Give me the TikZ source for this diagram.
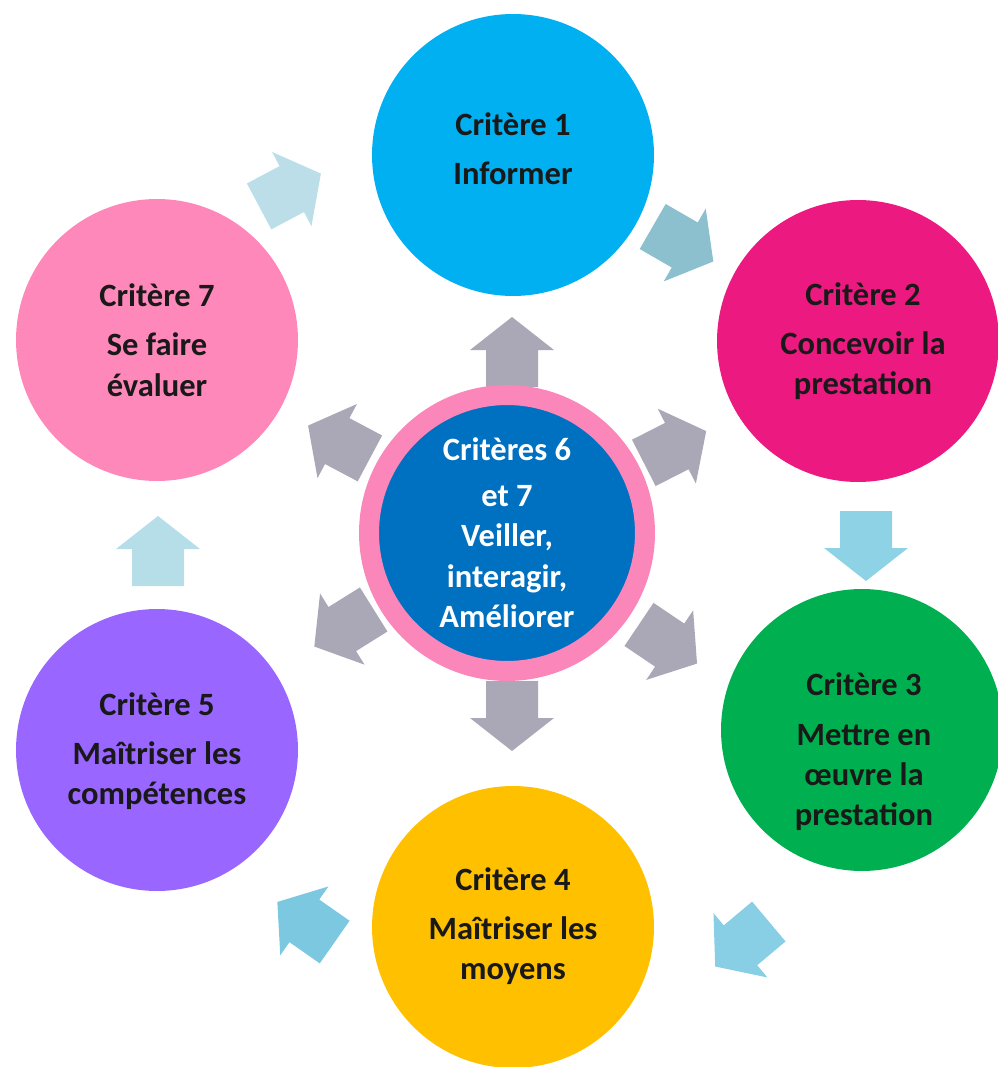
\documentclass[tikz,border=0pt]{standalone}
\usepackage{fontspec}
\setmainfont{Carlito}
\usetikzlibrary{positioning}
\definecolor{critcyan}{RGB}{0,176,240}
\definecolor{critmagenta}{RGB}{236,26,128}
\definecolor{critgreen}{RGB}{0,176,80}
\definecolor{critgold}{RGB}{255,192,0}
\definecolor{critpurple}{RGB}{153,102,255}
\definecolor{critpink}{RGB}{255,136,186}
\definecolor{coreblue}{RGB}{0,112,192}
\definecolor{corepink}{RGB}{250,134,186}
\definecolor{arrowgray}{RGB}{170,168,182}
\definecolor{flowA}{RGB}{188,222,232}
\definecolor{flowB}{RGB}{140,192,206}
\definecolor{flowC}{RGB}{142,210,230}
\definecolor{flowD}{RGB}{136,206,228}
\definecolor{flowE}{RGB}{124,200,224}
\definecolor{flowF}{RGB}{182,222,232}

\begin{document}
\begin{tikzpicture}[x=0.02cm, y=-0.02cm]
    \tikzstyle{critere}=[circle, minimum size=5.64cm, inner sep=0pt]
    \tikzstyle{crittext}=[align=center, inner sep=0pt, text=black!90, font=\fontsize{18.5}{23}\selectfont\bfseries]
    \tikzstyle{core}=[circle, inner sep=0pt, fill=coreblue, draw=corepink, line width=0.4cm, minimum size=5.52cm, crittext, text=white]
    \tikzset{flow/.pic={\fill[#1] (-35,26) -- (2,26) -- (2,42) -- (35,0) -- (2,-42) -- (2,-26) -- (-35,-26) -- cycle;}}

    \useasboundingbox (0,0) rectangle (997,1067);

    % arrows from the centre
    \foreach \x/\y/\a [count=\i] in {512/352/90, 675/447/27, 668/644/-34, 512/716/-90, 344/628/-148, 339/442/152}
        \pic[rotate=\a] (G-\i) at (\x,\y) {flow=arrowgray};

    % arrows round the cycle
    \pic[rotate=28] (F-1) at (290,190) {flow=flowA};
    \pic[rotate=-30] (F-2) at (683,244) {flow=flowB};
    \pic[rotate=-90] (F-3) at (866,546) {flow=flowC};
    \pic[rotate=220] (F-4) at (742,944) {flow=flowD};
    \pic[rotate=145] (F-5) at (306,922) {flow=flowE};
    \pic[rotate=90] (F-6) at (158,551) {flow=flowF};

    \node[critere, fill=critcyan] (C-1) at (513,155) {};
    \node[critere, fill=critmagenta] (C-2) at (858,341) {};
    \node[critere, fill=critgreen] (C-3) at (862,730) {};
    \node[critere, fill=critgold] (C-4) at (513,927) {};
    \node[critere, fill=critpurple] (C-5) at (157,750) {};
    \node[critere, fill=critpink] (C-7) at (157,340) {};

    \node[crittext] (T-1) at (513,149) {Critère 1\\[5pt]Informer};
    \node[crittext] (T-2) at (863,341) {Critère 2\\[5pt]Concevoir la\\prestation};
    \node[crittext] (T-3) at (864,752) {Critère 3\\[5pt]Mettre en\\œuvre la\\prestation};
    \node[crittext] (T-4) at (513,926) {Critère 4\\[5pt]Maîtriser les\\moyens};
    \node[crittext] (T-5) at (157,751) {Critère 5\\[5pt]Maîtriser les\\compétences};
    \node[crittext] (T-7) at (157,340) {Critère 7\\[5pt]Se faire\\évaluer};

    \node[core] (core) at (507,533) {Critères 6\\[3pt]et 7\\Veiller,\\interagir,\\Améliorer};
\end{tikzpicture}
\end{document}
